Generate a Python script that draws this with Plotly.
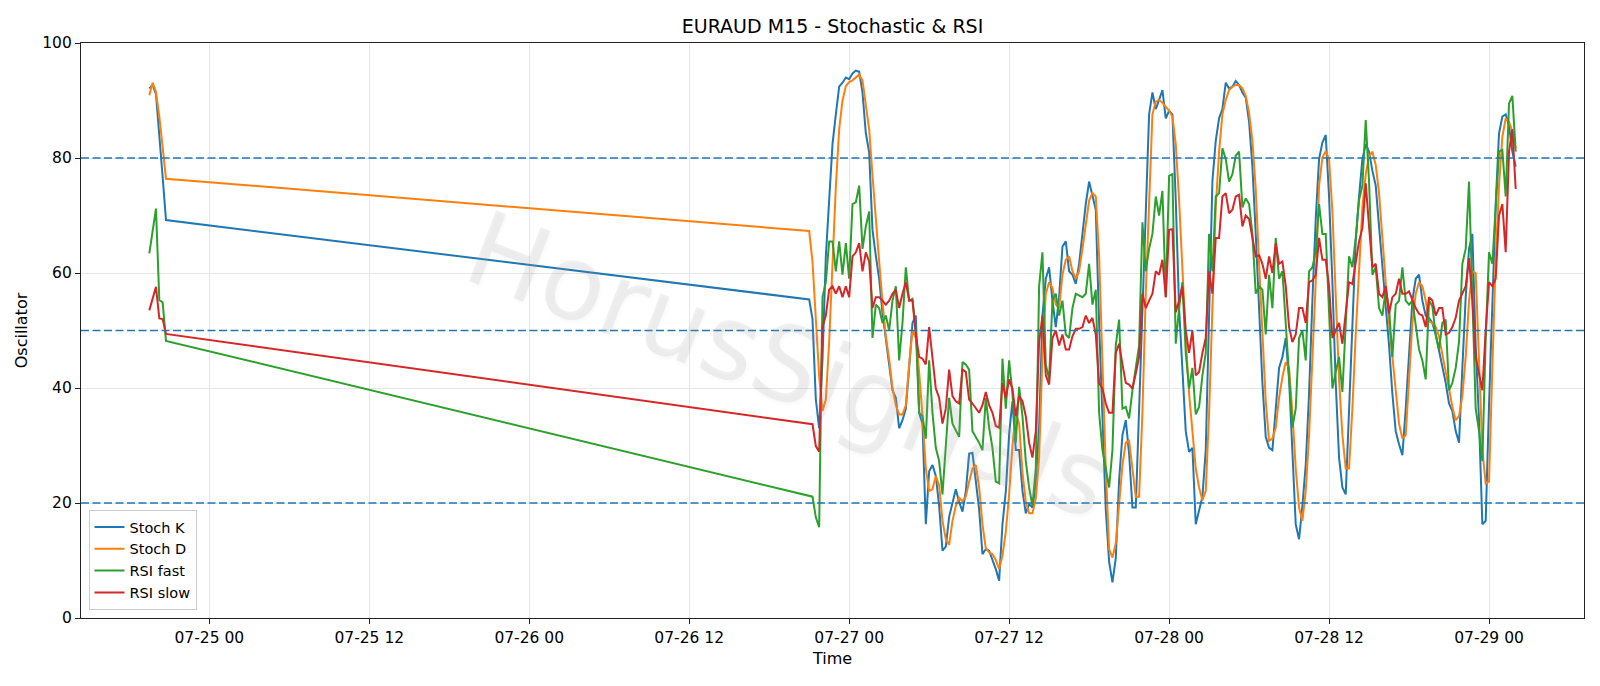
import pandas as pd
import plotly.graph_objects as go

# ---- time axis: Friday close segment + Sunday-open segment (15-minute bars)
seg1_times = pd.date_range("2020-07-24 19:30", periods=6, freq="15min")
seg2_times = pd.date_range("2020-07-26 21:00", periods=213, freq="15min")
times = list(seg1_times) + list(seg2_times)

# ---- series values
stoch_k_seg1 = [92.1, 92.7, 91.1, 84.3, 76.7, 69.2]
stoch_d_seg1 = [90.9, 93.1, 91.5, 87.2, 81.9, 76.4]
rsi_fast_seg1 = [63.4, 67.0, 71.2, 55.3, 54.9, 48.2]
rsi_slow_seg1 = [53.5, 55.6, 57.6, 52.1, 52.0, 49.4]

stoch_k_seg2 = [
    55.4, 52, 38, 33, 45, 62.9, 73.3, 82.4, 87.6, 92.4,
    93.1, 94, 93.7, 94.7, 95.2, 95, 91.4, 84.3, 81, 67.5,
    63, 59, 53, 48.7, 44, 39.6, 38.3, 33, 34.4, 36.4,
    43.5, 51.3, 52.6, 35.7, 33.8, 16.3, 25.5, 26.6, 24.7, 19.5,
    11.7, 12.4, 17.6, 20.2, 22.4, 20.2, 18.5, 22, 28.6, 28.7,
    24, 18.9, 11.1, 12, 11.7, 10.1, 8.5, 6.5, 16.3, 22,
    32, 37.7, 29.2, 29.2, 22.1, 18.2, 19.8, 19.2, 23.4, 33.1,
    52.6, 59, 61, 55.2, 50.6, 55.8, 64.6, 65.5, 60.3, 59.7,
    58.1, 61.6, 66.8, 72, 75.9, 73.6, 71, 51.3, 35.7, 18.9,
    9.8, 6.2, 10.4, 24, 31.8, 34.4, 28.6, 19.2, 19.2, 37,
    53.9, 71.4, 87.6, 91.4, 88.5, 90.1, 91.8, 86.9, 88.2, 87.6,
    72.7, 53.9, 42.2, 32.5, 28.9, 29.6, 16.3, 18.9, 21.1, 29.2,
    55.2, 76, 83, 86.9, 88.5, 93.1, 92.1, 92.4, 93.4, 92.7,
    91.4, 90.5, 86.3, 78.5, 66.8, 53.9, 40.9, 31.5, 29.6, 29.2,
    36.4, 43.5, 45.4, 48.7, 41.5, 27.9, 16.3, 13.7, 19.5, 26.6,
    39, 55.2, 69.4, 79.8, 82.7, 84, 73.3, 58.4, 40.9, 27.9,
    22.7, 21.5, 36.4, 49.3, 65.5, 73.3, 79.8, 82.4, 81.1, 77.8,
    75.2, 68.1, 61, 55.2, 47.4, 39, 32.5, 30.2, 28.3, 36.4,
    46.1, 55.2, 59, 59.7, 55.2, 52.6, 52.2, 51.3, 49.3, 46.7,
    44.1, 40.9, 37.3, 36, 32.5, 30.5, 43.5, 55.8, 64.2, 66.8,
    47.4, 34.4, 16.3, 16.9, 37, 55.2, 72, 84.3, 87.2, 87.6,
    85.6, 81.1, 78.5,
]

stoch_d_seg2 = [
    67.3, 62, 52, 42, 36, 38, 48, 62, 75, 85,
    90, 92.5, 93.2, 93.5, 94, 94.5, 93.5, 89, 85, 77,
    69, 62, 55, 49, 45, 40, 37, 35.4, 35.4, 37,
    44.1, 50, 48.7, 42.8, 35.1, 26, 22.1, 22.4, 24.7, 23.1,
    16.9, 13.7, 12.7, 16.9, 19.5, 20.9, 20.3, 21.1, 23.7, 26,
    26.6, 22.7, 16.3, 12.1, 11.4, 11.1, 10.1, 8.5, 10.8, 15,
    21.5, 30, 35.7, 33.8, 25.3, 20.2, 18.2, 18.2, 20.8, 27.9,
    45.4, 56.4, 58.4, 57.4, 54.5, 53.9, 59.7, 62.3, 62.9, 60.3,
    59, 60.3, 64.2, 68.8, 72.6, 73.9, 73.3, 62.9, 43.5, 26,
    12, 10.5, 13, 20.2, 26.6, 30.5, 30.8, 26, 21.1, 21.1,
    35.7, 56.4, 72.7, 87.6, 89.8, 90.1, 89.6, 88.9, 88.2, 87.2,
    82.4, 72.7, 60.3, 48.7, 39, 31.8, 26, 22.7, 20.5, 22.1,
    35.7, 53.9, 71.4, 81.1, 87.6, 90.1, 91.8, 92.4, 92.7, 92.7,
    92.1, 90.8, 87.9, 83, 74.6, 61.6, 48.7, 37.7, 30.8, 31.2,
    33.1, 38.3, 41.9, 44.5, 43.5, 35.7, 26, 19.2, 16.9, 22.1,
    31.8, 44.8, 58.4, 75.2, 80.1, 81.2, 79.8, 70.7, 55.2, 41.5,
    31.8, 26, 26, 36.4, 49.3, 61.6, 71.4, 77.2, 80.3, 81.1,
    78.8, 73.9, 65.5, 58.4, 51.3, 45.4, 39, 33.8, 31.2, 31.8,
    41.5, 51.3, 56.4, 58.4, 57.7, 55.2, 51.6, 51.3, 50.6, 49,
    45.8, 42.5, 39.9, 36.7, 34.4, 35.1, 38.6, 45.4, 55.2, 60.3,
    60, 44.8, 29.2, 23.4, 23.7, 43.5, 62.3, 75.2, 83.7, 86.9,
    86.3, 84.6, 81.7,
]

rsi_fast_seg2 = [
    21.3, 21.1, 17.5, 15.8, 55.8, 58.4, 65.5, 65.5, 60.3, 65.5,
    59.7, 65.2, 59, 72, 72.3, 75.2, 64.2, 68.1, 70.7, 48.7,
    54.5, 53.9, 51.3, 52.6, 50, 55.2, 57.7, 44.8, 51.3, 61,
    55.2, 55.5, 50, 35.7, 35.1, 31.2, 44.8, 35.7, 29.6, 27.3,
    21.5, 30, 38.3, 33.8, 32.5, 31.5, 44.5, 44.1, 43.2, 32.5,
    31.5, 30.5, 29.2, 38.3, 33.1, 29.6, 23.7, 23.4, 45.1, 36.4,
    44.8, 39, 30.5, 40.2, 35.1, 27.3, 22.7, 19.5, 26, 57.7,
    63.6, 44.1, 41.5, 55.2, 56.4, 52.6, 55.2, 49.3, 48.7, 53.9,
    56.4, 56.1, 55.8, 56.4, 61.6, 54.5, 57.1, 35.7, 29.2, 26,
    22.7, 29.2, 47.4, 51.9, 36.4, 36.7, 34.7, 39.6, 43.5, 47.4,
    68.8, 60.3, 64.2, 66.8, 73.3, 70, 74.3, 55.8, 76.9, 77.2,
    47.7, 53.9, 58.4, 46.1, 39.9, 43.5, 35.4, 36.7, 42.2, 46.1,
    66.8, 60.3, 73.3, 73.9, 81.7, 79.8, 75.9, 77.2, 80.4, 81.1,
    71.4, 73, 72, 66.8, 56.4, 57.7, 57.1, 49.3, 59.7, 53.9,
    66.1, 59, 60.3, 51.3, 42.2, 33.1, 36.4, 48.7, 50, 44.8,
    60.3, 61, 63.6, 72, 66.8, 66.8, 53.2, 39.9, 42.8, 45.4,
    39.3, 50, 62.9, 61, 66.1, 72.7, 75.2, 86.6, 75.9, 59.7,
    61, 53.9, 52.6, 57.1, 53.9, 45.4, 54.5, 55.2, 61, 55.2,
    54.5, 55.2, 50.6, 46.7, 44.8, 41.5, 55.2, 54.2, 49.3, 46.7,
    51.3, 51.9, 39.6, 40.9, 43.5, 48, 61.6, 64.2, 75.9, 55.2,
    36.4, 32.5, 27.3, 48.7, 63.6, 61.6, 71.4, 81.1, 81.4, 73.3,
    89.5, 90.8, 81.1,
]

rsi_slow_seg2 = [
    33.8, 33.7, 29.9, 28.9, 50.6, 52.6, 57.1, 57.7, 56.4, 57.7,
    55.8, 57.7, 55.8, 62.9, 63.6, 65.2, 60.3, 63.6, 62, 53.9,
    55.8, 55.8, 55.2, 54.5, 55.2, 56.4, 57.1, 53.9, 56.4, 58.4,
    55.2, 55.2, 49.3, 45.4, 45.1, 44.1, 50.6, 44.8, 39.9, 38.3,
    33.8, 36.4, 43.2, 38.6, 37.7, 37.3, 43.2, 42.8, 38, 37.3,
    36.4, 35.7, 37, 39.3, 37, 35.7, 33.4, 33.1, 40.9, 38.3,
    41.5, 39.9, 35.1, 38.6, 37.7, 35.1, 30.5, 27.9, 32.5, 48,
    52.6, 42.2, 40.6, 48.7, 50, 47.4, 49.3, 46.7, 46.7, 49,
    50.3, 50.3, 50.6, 52.6, 51.3, 52.2, 49.3, 40.9, 39.9, 37.3,
    35.7, 35.7, 46.1, 47.7, 44.1, 40.9, 40.6, 39.9, 42.5, 45.4,
    56.4, 53.9, 55.2, 56.4, 60.3, 59.7, 62.3, 55.8, 67.5, 67.6,
    53.2, 55.2, 57.7, 50, 46.1, 50, 42.2, 42.8, 46.1, 48.7,
    60.3, 56.4, 66.1, 66.1, 73.3, 73.9, 70.4, 71, 73.3, 73.6,
    68.1, 70, 69.4, 66.1, 62.9, 63.1, 61.6, 59, 62.9, 60,
    65.2, 61.6, 62, 57.7, 50.6, 48, 49.3, 53.9, 53.9, 51.3,
    58.4, 58.7, 59.7, 66.1, 62.3, 62.3, 57.7, 48.7, 50, 51.3,
    47.7, 52.6, 58.4, 58.1, 61.6, 65.5, 67.8, 75.6, 68.1, 61,
    61.6, 56.4, 55.8, 57.7, 52.9, 55.8, 56.4, 59, 56.4, 56.4,
    56.8, 55.2, 53.9, 52.9, 52.6, 50.6, 55.8, 55.2, 52.6, 53.9,
    53.9, 49.3, 49.6, 50.6, 52.2, 55.2, 56.4, 57.7, 62.6, 55.2,
    45.4, 42.8, 39.6, 50, 58.4, 57.7, 59, 70, 72, 63.6,
    81.1, 85, 74.6,
]

series_names = ["Stoch K", "Stoch D", "RSI fast", "RSI slow"]
series_colors = ["#1f77b4", "#ff7f0e", "#2ca02c", "#d62728"]
series_values = [
    stoch_k_seg1 + stoch_k_seg2,
    stoch_d_seg1 + stoch_d_seg2,
    rsi_fast_seg1 + rsi_fast_seg2,
    rsi_slow_seg1 + rsi_slow_seg2,
]

level_lines = [20, 50, 80]
y_ticks = [0, 20, 40, 60, 80, 100]
x_tick_vals = pd.date_range("2020-07-25 00:00", "2020-07-29 00:00", freq="12h")
x_tick_text = [t.strftime("%m-%d %H") for t in x_tick_vals]

FONT = "DejaVu Sans"

fig = go.Figure()
for name, color, vals in zip(series_names, series_colors, series_values):
    fig.add_trace(go.Scatter(x=times, y=vals, mode="lines", name=name,
                             line=dict(color=color, width=2)))

for lv in level_lines:
    fig.add_shape(type="line", xref="paper", x0=0, x1=1, yref="y", y0=lv, y1=lv,
                  line=dict(color="#1f77b4", width=1.4, dash="8px,3.5px"),
                  layer="above")

axis_common = dict(
    showline=True, linecolor="#222222", linewidth=1.2, mirror=True,
    ticks="outside", ticklen=5, tickwidth=1.1, tickcolor="#222222",
    showgrid=True, gridcolor="#e6e6e6", gridwidth=1.1,
    zeroline=False, tickfont=dict(family=FONT, size=15.5, color="black"),
)

fig.update_layout(
    width=1600, height=686,
    margin=dict(l=81, r=16, t=43, b=68),
    paper_bgcolor="white", plot_bgcolor="white",
    font=dict(family=FONT, size=15, color="black"),
    title=dict(text="EURAUD M15 - Stochastic & RSI", x=0.5, xref="paper",
               xanchor="center", y=1 - 26 / 686, yref="container", yanchor="middle",
               font=dict(family=FONT, size=19, color="black")),
    xaxis=dict(type="date",
               range=["2020-07-24 14:22:30", "2020-07-29 07:07:30"],
               tickvals=list(x_tick_vals), ticktext=x_tick_text,
               title=dict(text="Time", font=dict(family=FONT, size=16), standoff=7),
               **axis_common),
    yaxis=dict(range=[0, 100], tickvals=y_ticks,
               title=dict(text="Oscillator", font=dict(family=FONT, size=16), standoff=10),
               **axis_common),
    legend=dict(x=0.005, y=0.014, xanchor="left", yanchor="bottom",
                bgcolor="rgba(255,255,255,0.85)", bordercolor="#cccccc", borderwidth=1,
                font=dict(family=FONT, size=14.5, color="black"),
                tracegroupgap=0),
    showlegend=True,
)

wm_kwargs = dict(text="HorusSignals", xref="paper", yref="paper", x=0.471, y=0.44,
                 xanchor="center", yanchor="middle", textangle=21, showarrow=False)
try:
    fig.add_annotation(**wm_kwargs,
                       font=dict(family=FONT, size=104, color="rgba(170,170,170,0.16)",
                                 shadow="2px 2px 3px rgba(110,110,110,0.25)"))
except Exception:
    fig.add_annotation(**wm_kwargs,
                       font=dict(family=FONT, size=104, color="rgba(170,170,170,0.2)"))

fig.write_html("out.html")
